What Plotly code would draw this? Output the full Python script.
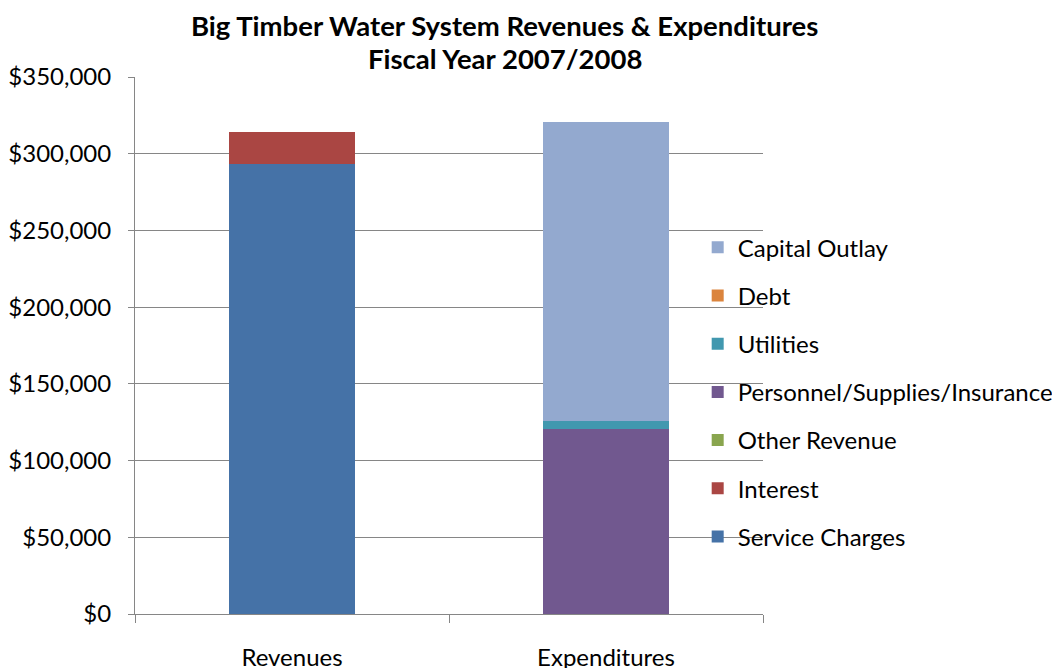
import plotly.graph_objects as go

categories = ["Revenues", "Expenditures"]
series_names = ["Service Charges", "Interest", "Other Revenue",
                "Personnel/Supplies/Insurance", "Utilities", "Debt", "Capital Outlay"]
service_charges = [293500, 0]
interest = [20700, 0]
other_revenue = [0, 0]
personnel = [0, 120600]
utilities = [0, 5200]
debt = [0, 0]
capital_outlay = [0, 194900]
colors = ["#4572A7", "#AA4643", "#89A54E", "#71588F", "#4198AF", "#DB843D", "#93A9CF"]
title_lines = ["Big Timber Water System Revenues &amp; Expenditures", "Fiscal Year 2007/2008"]

values = [service_charges, interest, other_revenue, personnel, utilities, debt, capital_outlay]

FONT = "Lato"
fig = go.Figure()
n = len(series_names)
for i, (name, vals, col) in enumerate(zip(series_names, values, colors)):
    fig.add_trace(go.Bar(x=categories, y=vals, name=name, marker_color=col,
                         marker_line_width=0, legendgroup=name, legendrank=n - i))

# page body has an 8px margin, so the figure is drawn at (8, 8)
fig.update_layout(
    width=1052, height=660,
    barmode="stack", bargap=0.6,
    paper_bgcolor="white", plot_bgcolor="white",
    margin=dict(l=127, r=297, t=69, b=54, autoexpand=False),
    font=dict(family=FONT, size=24, color="black"),
    legend=dict(traceorder="grouped", x=0.896, xanchor="left", y=0.724, yanchor="top",
                bgcolor="rgba(0,0,0,0)", tracegroupgap=14,
                font=dict(family=FONT, size=24), itemwidth=30),
    showlegend=True,
)
for i, line in enumerate(title_lines):
    fig.add_annotation(text="<b>" + line + "</b>", xref="paper", yref="paper",
                       x=0.589, xanchor="center", y=1 + (69 - 17 - 34 * i) / 537, yanchor="middle",
                       showarrow=False, font=dict(family=FONT, size=27.5, color="black"))
fig.update_yaxes(range=[0, 350000], dtick=50000, tickformat="$,.0f",
                 showgrid=True, gridcolor="#868686", gridwidth=1,
                 showline=True, linecolor="#868686", linewidth=1,
                 ticks="outside", ticklen=6, tickcolor="#868686",
                 zeroline=False, tickfont=dict(size=24), ticklabelstandoff=12)
fig.update_xaxes(showline=True, linecolor="#868686", linewidth=1,
                 ticks="outside", ticklen=8, tickcolor="#868686",
                 tickson="boundaries", tickfont=dict(size=24), ticklabelstandoff=22)

fig.write_html("out.html")
